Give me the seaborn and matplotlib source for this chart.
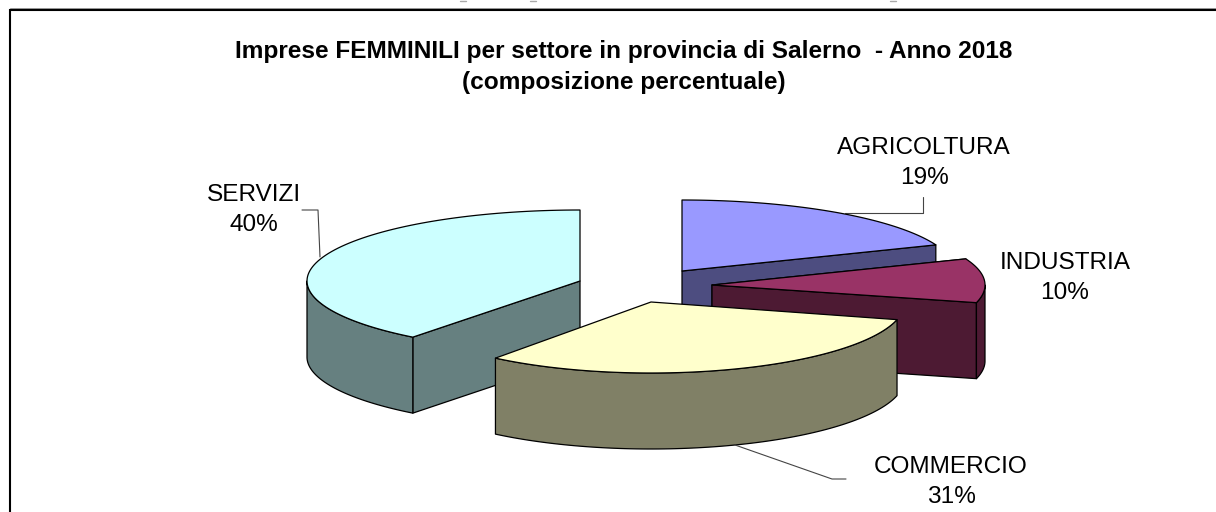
import numpy as np
import seaborn as sns
import matplotlib.pyplot as plt
from matplotlib.patches import Polygon

sns.set_theme(style='white')
plt.rcParams['font.family'] = ['Liberation Sans', 'DejaVu Sans']

settori = ['AGRICOLTURA', 'INDUSTRIA', 'COMMERCIO', 'SERVIZI']
quote = [19.0, 10.0, 31.49, 39.51]
colori = ['#9999FF', '#993366', '#FFFFCC', '#CCFFFF']
titolo = 'Imprese FEMMINILI per settore in provincia di Salerno  - Anno 2018\n(composizione percentuale)'

# pixel layout of the exploded pie: centre of each slice and its x radius
centri = {'AGRICOLTURA': (682, 271), 'INDUSTRIA': (712, 285), 'COMMERCIO': (651, 302), 'SERVIZI': (580, 281)}
raggi = {'AGRICOLTURA': 273, 'INDUSTRIA': 273, 'COMMERCIO': 254, 'SERVIZI': 273}
ry = 71
depth = 76

# label centre, and leader line
etichette = {'AGRICOLTURA': (924, 163), 'INDUSTRIA': (1065, 278), 'COMMERCIO': (951, 482), 'SERVIZI': (254, 210)}
leader = {'AGRICOLTURA': [(923, 197), (923, 213), (845, 213)],
          'COMMERCIO': [(735, 445), (832, 479), (846, 479)],
          'SERVIZI': [(302, 210), (318, 210), (320, 257)]}

palette = sns.color_palette(colori)
fine = np.cumsum(quote) / sum(quote) * 360
inizio = np.concatenate([[0], fine[:-1]])

fig = plt.figure(figsize=(12.16, 5.12), dpi=100, facecolor='white')
ax = fig.add_axes([0, 0, 1, 1])
ax.set_xlim(0, 1216)
ax.set_ylim(512, 0)
ax.axis('off')


def arco(cx, cy, rx, a, b, dy=0):
    t = np.radians(np.linspace(a, b, 90))
    return np.column_stack([cx + rx * np.sin(t), cy - ry * np.cos(t) + dy])


def poly(pts, fc, z):
    ax.add_patch(Polygon(pts, closed=True, facecolor=fc, edgecolor='black', linewidth=0.9, joinstyle='round', zorder=z))


# back to front order
for z, nome in enumerate(['AGRICOLTURA', 'INDUSTRIA', 'SERVIZI', 'COMMERCIO']):
    i = settori.index(nome)
    cx, cy = centri[nome]
    rx = raggi[nome]
    col = palette[i]
    scuro = tuple(c * 0.5 for c in col)
    a, b = inizio[i], fine[i]
    base = 10 + z * 5

    # cut faces that look to the viewer
    for ang in (a, b):
        if 0 < ang < 90 or 180 < ang < 360 and ang == a or 90 < ang < 180 and ang == b:
            p = arco(cx, cy, rx, ang, ang)[0]
            poly([(cx, cy), p, (p[0], p[1] + depth), (cx, cy + depth)], scuro, base)

    # outer wall, only the front half of the ellipse shows
    a2, b2 = max(a, 90), min(b, 270)
    if a2 < b2:
        alto = arco(cx, cy, rx, a2, b2)
        basso = arco(cx, cy, rx, b2, a2, depth)
        poly(np.vstack([alto, basso]), scuro, base + 1)

    # top face
    poly(np.vstack([[(cx, cy)], arco(cx, cy, rx, a, b)]), col, base + 2)

    lx, ly = etichette[nome]
    ax.text(lx, ly, f'{nome}\n{quote[i]:.0f}%', ha='center', va='center', fontsize=17.6,
            color='black', linespacing=1.52, zorder=50)
    if nome in leader:
        xs, ys = zip(*leader[nome])
        ax.plot(xs, ys, color='#444444', lw=0.8, zorder=base - 1 if nome == 'AGRICOLTURA' else 40)

ax.text(624, 67, titolo, ha='center', va='center', fontsize=17.6, fontweight='bold', color='black',
        linespacing=1.4, zorder=50)

# chart frame, cut by the image on the right and at the bottom
ax.plot([1216, 10, 10], [9.5, 9.5, 512], color='black', lw=1.5, solid_joinstyle='miter', zorder=60)
ax.plot([10, 1216], [8, 8], color='#999999', lw=0.7, zorder=59)

# descenders of the text above the crop
for x in [463, 533, 893]:
    ax.plot([x - 3, x + 3], [0.5, 0.5], color='#aaaaaa', lw=1, zorder=60)

fig.savefig('out.png', dpi=100, facecolor='white')
